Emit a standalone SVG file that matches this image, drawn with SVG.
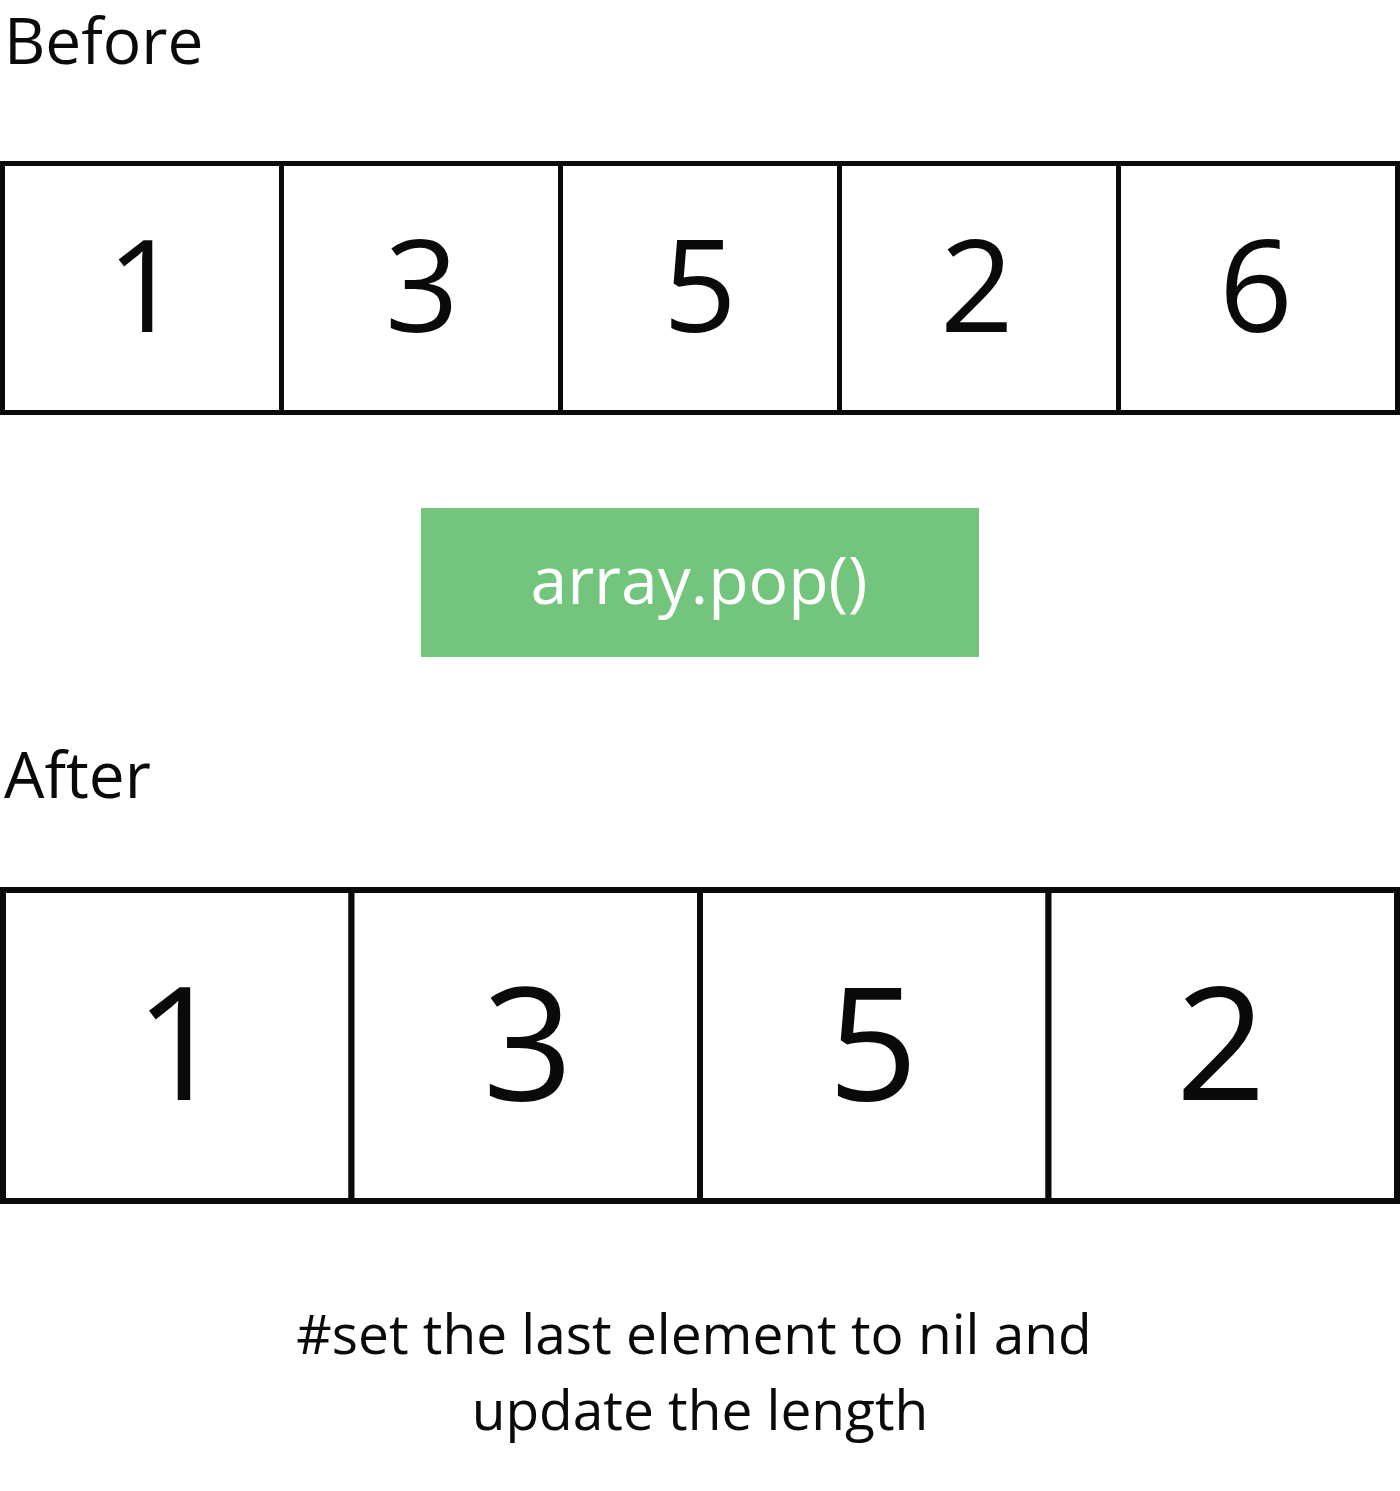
<svg xmlns="http://www.w3.org/2000/svg" width="1400" height="1491" viewBox="0 0 1400 1491">
<style>
.cell{fill:#fff;stroke:#0a0a0a;stroke-width:5}
.lbl{font-family:"Open Sans","Noto Sans",sans-serif;fill:#0a0a0a}
.dTop{font-size:129px;text-anchor:middle}
.dBot{font-size:158px;text-anchor:middle}
.head{font-size:64px}
.note{font-size:55px;text-anchor:middle}
</style>
<rect width="1400" height="1491" fill="#fff"/>
<text class="lbl head" x="4" y="64">Before</text>
<g id="before">
<g id="b0"><rect class="cell" x="2.5" y="163.5" width="279" height="249"/><text class="lbl dTop" x="144" y="332">1</text></g>
<g id="b1"><rect class="cell" x="281.5" y="163.5" width="279" height="249"/><text class="lbl dTop" x="422" y="332">3</text></g>
<g id="b2"><rect class="cell" x="560.5" y="163.5" width="279" height="249"/><text class="lbl dTop" x="700" y="332">5</text></g>
<g id="b3"><rect class="cell" x="839.5" y="163.5" width="279" height="249"/><text class="lbl dTop" x="977" y="332">2</text></g>
<g id="b4"><rect class="cell" x="1118.5" y="163.5" width="279" height="249"/><text class="lbl dTop" x="1256" y="332">6</text></g>
</g>
<g id="op">
<rect x="421" y="508" width="558" height="149" fill="#73c47d"/>
<text class="lbl" x="699" y="604" font-size="66" text-anchor="middle" style="fill:#fff">array.pop()</text>
</g>
<text class="lbl head" x="4" y="798">After</text>
<g id="after">
<g id="a0"><rect class="cell" x="3" y="890" width="348.5" height="311" style="stroke-width:6"/><text class="lbl dBot" x="180" y="1100">1</text></g>
<g id="a1"><rect class="cell" x="351.5" y="890" width="348.5" height="311" style="stroke-width:6"/><text class="lbl dBot" x="528" y="1100">3</text></g>
<g id="a2"><rect class="cell" x="700" y="890" width="348.5" height="311" style="stroke-width:6"/><text class="lbl dBot" x="873" y="1100">5</text></g>
<g id="a3"><rect class="cell" x="1048.5" y="890" width="348.5" height="311" style="stroke-width:6"/><text class="lbl dBot" x="1221" y="1100">2</text></g>
</g>
<g id="connectors"></g>
<text class="lbl note" x="694" y="1354">#set the last element to nil and</text>
<text class="lbl note" x="700" y="1430">update the length</text>
</svg>
